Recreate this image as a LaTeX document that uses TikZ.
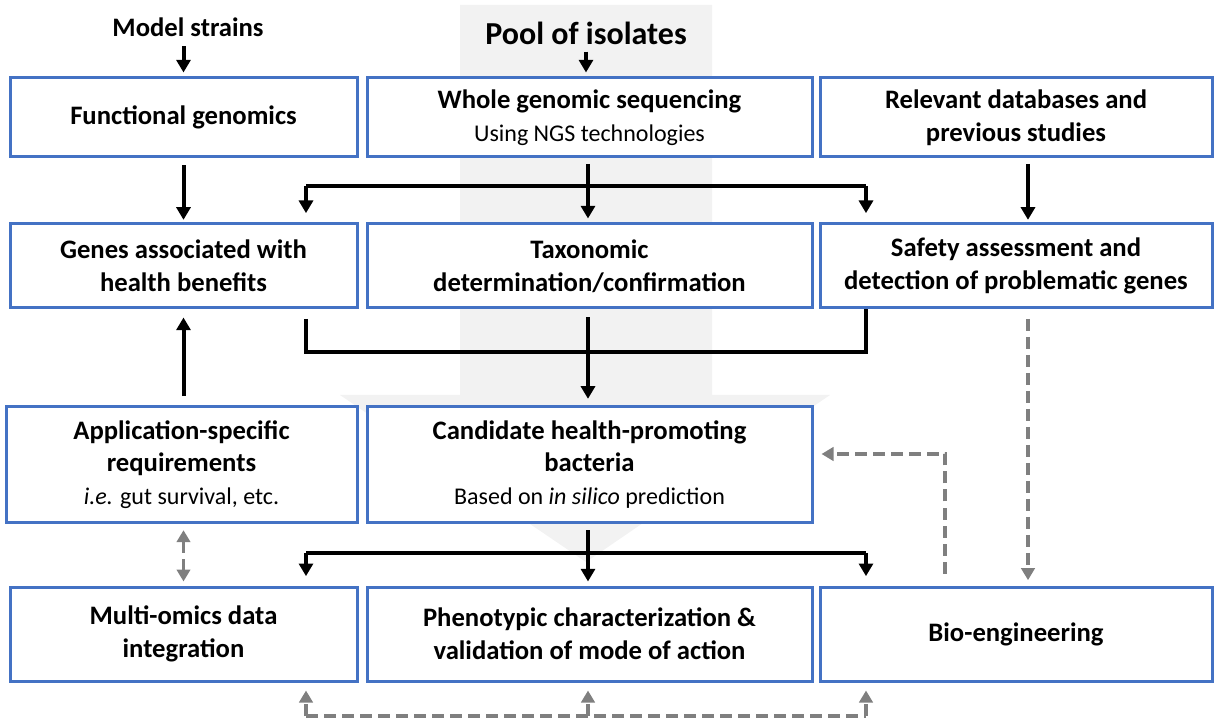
\documentclass[tikz,border=0pt]{standalone}
\usepackage{fontspec}
\setmainfont{Carlito}
\usetikzlibrary{arrows.meta}
\definecolor{boxblue}{HTML}{4472C4}
\definecolor{dgrey}{HTML}{7F7F7F}
\definecolor{bggrey}{HTML}{F2F2F2}
\begin{document}
\begin{tikzpicture}[x=0.75pt,y=-0.75pt,
  box/.style={draw=boxblue, line width=2.25pt, fill=white, align=center, inner sep=0pt,
    font=\bfseries\fontsize{20}{24.5}\selectfont},
  cA/.style={minimum width=347*0.75pt},
  cB/.style={minimum width=445*0.75pt},
  cC/.style={minimum width=392*0.75pt},
  rA/.style={minimum height=79*0.75pt},
  rB/.style={minimum height=84*0.75pt},
  rC/.style={minimum height=115*0.75pt},
  rD/.style={minimum height=94*0.75pt},
  blk/.style={line width=3pt, black},
  arr/.style={blk, -{Triangle[length=9.5pt,width=10.5pt]}},
  gd/.style={dgrey, line width=2.8pt, dash pattern=on 9pt off 4.5pt},
  gtip/.style={},
  garr/.style={gd, -{Triangle[length=9pt,width=10pt]}},
  gdarr/.style={gd, {Triangle[length=9pt,width=10pt]}-{Triangle[length=9pt,width=10pt]}}
]
\useasboundingbox (0,0) rectangle (1215,720);
% big background arrow
\fill[bggrey] (460,5) -- (712,5) -- (712,395) -- (830,395) -- (586,562) -- (340,395) -- (460,395) -- cycle;

% titles
\node[font=\bfseries\fontsize{20}{24}\selectfont] (ms) at (188,27) {Model strains};
\node[font=\bfseries\fontsize{24}{28}\selectfont] (pool) at (586,33) {Pool of isolates};

% row 1
\node[box,cA,rA] (A1) at (183.5,117.5) {Functional genomics};
\node[box,cB,rA] (B1) at (589.5,117.5) {Whole genomic sequencing\\{\fontsize{18}{22}\mdseries\selectfont Using NGS technologies}};
\node[box,cC,rA] (C1) at (1016,117.5) {Relevant databases and\\previous studies};
% row 2
\node[box,cA,rB] (A2) at (183.5,266) {Genes associated with\\health benefits};
\node[box,cB,rB] (B2) at (589.5,266) {Taxonomic\\determination/confirmation};
\node[box,cC,rB] (C2) at (1016,266) {Safety assessment and\\detection of problematic genes};
% row 3
\node[box,minimum width=351*0.75pt,rC] (A3) at (181.5,464.5) {Application-specific\\requirements\\{\fontsize{18}{22}\mdseries\selectfont\textit{i.e.} gut survival, etc.}};
\node[box,cB,rC] (B3) at (589.5,464.5) {Candidate health-promoting\\bacteria\\{\fontsize{18}{22}\mdseries\selectfont Based on \textit{in silico} prediction}};
% row 4
\node[box,cA,rD] (A4) at (183.5,634) {Multi-omics data\\integration};
\node[box,cB,rD] (B4) at (589.5,634) {Phenotypic characterization \&\\validation of mode of action};
\node[box,cC,rD] (C4) at (1016,634) {Bio-engineering};

% coordinates for junctions
\coordinate (s1l) at (306,186);
\coordinate (s1r) at (866,186);
\coordinate (m1l) at (306,352);
\coordinate (m1r) at (866,352);
\coordinate (s2l) at (306,553);
\coordinate (s2r) at (866,553);
\coordinate (bl) at (306,716);
\coordinate (bm) at (588,716);
\coordinate (br) at (866,716);
\coordinate (fb) at (945,454);

% black arrows
\draw[arr, shorten <=4pt, shorten >=3pt] (A1.north |- ms.south) -- (A1.north);
\draw[arr, shorten <=2pt, shorten >=3pt] (pool.south) -- (pool.south |- B1.north);
\draw[arr, shorten <=5pt, shorten >=2pt] (A1.south) -- (A2.north);
\draw[arr, shorten <=4pt, shorten >=3pt] (B1.south -| 588,0) -- (B2.north -| 588,0);
\draw[blk] (s1l) -- (s1r);
\draw[arr, shorten >=7pt] (s1l) -- (s1l |- A2.north);
\draw[arr, shorten >=7pt] (s1r) -- (s1r |- C2.north);
\draw[arr, shorten <=4pt, shorten >=2pt] (C1.south -| 1028,0) -- (C2.north -| 1028,0);

\draw[blk, shorten <=7pt] (m1l |- A2.south) -- (m1l) -- (m1r) -- (m1r |- C2.south);
\draw[arr, shorten <=6pt, shorten >=5pt] (B2.south -| 588,0) -- (B3.north -| 588,0);
\draw[arr, shorten <=7pt, shorten >=6pt] (A3.north -| A2.south) -- (A2.south);

\draw[arr, shorten <=5pt, shorten >=3pt] (B3.south -| 588,0) -- (B4.north -| 588,0);
\draw[blk] (s2l) -- (s2r);
\draw[arr, shorten >=7pt] (s2l) -- (s2l |- A4.north);
\draw[arr, shorten >=7pt] (s2r) -- (s2r |- C4.north);

% grey dashed arrows
\draw[gdarr, shorten <=5pt, shorten >=3pt] (A3.south -| A4.north) -- (A4.north);
\draw[garr, shorten <=7pt, shorten >=4pt] (C2.south -| 1028,0) -- (C4.north -| 1028,0);
\draw[garr, shorten <=9pt, shorten >=6pt] (fb |- C4.north) -- (fb) -- (fb -| B3.east);
\draw[gd] (bl) -- (br);
\draw[garr, shorten >=6pt] (bl) -- (bl |- A4.south);
\draw[garr, shorten >=6pt] (bm) -- (bm |- B4.south);
\draw[garr, shorten >=6pt] (br) -- (br |- C4.south);
\end{tikzpicture}
\end{document}
